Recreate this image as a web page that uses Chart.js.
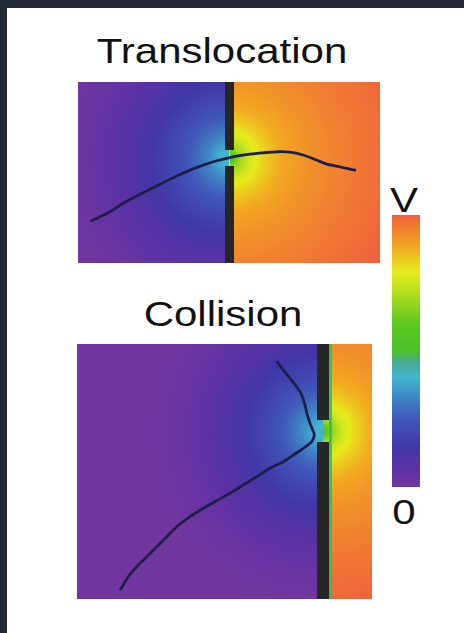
<!DOCTYPE html>
<html>
<head>
<meta charset="utf-8">
<script src="https://cdn.jsdelivr.net/npm/chart.js@4.4.1/dist/chart.umd.min.js"></script>
<style>
  html, body { margin: 0; padding: 0; }
  body { width: 464px; height: 633px; background: #232a36; position: relative; overflow: hidden;
         font-family: "Liberation Sans", Arial, sans-serif; }
  .page { position: absolute; left: 7px; top: 8px; right: 0; bottom: 0; background: #fff; }
  .lbl { position: absolute; width: 300px; font-size: 35px; line-height: 35px; color: #111;
         text-align: center; white-space: nowrap; transform: scaleX(1.2); transform-origin: 50% 0; }
  canvas { position: absolute; }
</style>
</head>
<body>
<div class="page"></div>

<div class="lbl" style="left:72px; top:33px;">Translocation</div>
<div class="lbl" style="left:73px; top:296px;">Collision</div>
<div class="lbl" style="left:254px; top:182px;">V</div>
<div class="lbl" style="left:254px; top:494px;">0</div>

<canvas id="topChart" width="302" height="181" style="left:78px; top:82px;"></canvas>
<canvas id="bottomChart" width="295" height="255" style="left:77px; top:344px;"></canvas>
<canvas id="cbarChart" width="28" height="272" style="left:392px; top:215px;"></canvas>

<script>
// ========== DATA ==========

// colour scale, 0 .. V
const cmapStops  = [0.00, 0.06, 0.14, 0.24, 0.33, 0.40, 0.46, 0.50, 0.60, 0.70, 0.79, 0.89, 1.00];
const cmapColors = ['#7236a0', '#5e32a4', '#4236a6', '#4054b8', '#3e86c4', '#42b6d0', '#48a890',
                    '#4ec02a', '#5cc820', '#a8dc1e', '#e6ec1c', '#f2a422', '#f0603e'];

// potential vs distance from the pore mouth (nm), each side of the membrane
const fieldDist  = [0, 1, 2, 3.5, 5, 7, 10, 14, 18, 32];
const fieldLeft  = [0.42, 0.39, 0.34, 0.27, 0.22, 0.16, 0.09, 0.03, 0.0, 0.0];
const fieldRight = [0.54, 0.68, 0.76, 0.83, 0.88, 0.91, 0.94, 0.97, 1.0, 1.0];

// translocation panel
const topRange = { x: [0, 30], y: [0, 18] };
const topWallX = 15.05;
const topGap   = [9.64, 11.23];
const trajTopX = [1.36, 3.18, 4.50, 5.83, 7.15, 8.47, 9.80, 11.12, 12.44, 13.77, 14.77,
                  15.76, 17.08, 18.40, 19.73, 21.05, 22.37, 23.70, 24.70, 25.69, 26.68, 27.51];
const trajTopY = [4.20, 5.10, 5.94, 6.66, 7.33, 7.99, 8.65, 9.24, 9.74, 10.17, 10.41,
                  10.64, 10.83, 10.96, 11.06, 11.03, 10.74, 10.24, 9.84, 9.64, 9.41, 9.24];

// collision panel
const botRange = { x: [0, 29.5], y: [0, 25.5] };
const botWallX = 24.6;
const botEdgeX = 25.35;
const botGap   = [15.7, 17.9];
const trajBotX = [20.03, 20.63, 21.30, 21.97, 22.47, 22.80, 23.03, 23.30, 23.57, 23.73, 23.47,
                  22.63, 21.63, 20.63, 19.30, 17.97, 16.63, 15.30, 13.97, 12.63, 11.30, 9.97,
                  8.97, 7.97, 6.97, 5.97, 5.13, 4.37];
const trajBotY = [23.68, 22.90, 22.07, 21.23, 20.40, 19.40, 18.40, 17.57, 16.90, 16.40, 15.73,
                  15.07, 14.40, 13.73, 13.07, 12.23, 11.40, 10.57, 9.83, 9.07, 8.23, 7.23,
                  6.23, 5.23, 4.23, 3.23, 2.23, 0.97];

// ========== HELPERS ==========

function hexToRgb(h) {
    return [parseInt(h.slice(1, 3), 16), parseInt(h.slice(3, 5), 16), parseInt(h.slice(5, 7), 16)];
}
const cmapRgb = cmapColors.map(hexToRgb);

function lerpTable(xs, ys, v) {
    if (v <= xs[0]) return ys[0];
    for (let i = 1; i < xs.length; i++) {
        if (v <= xs[i]) {
            const t = (v - xs[i - 1]) / (xs[i] - xs[i - 1]);
            return ys[i - 1] + t * (ys[i] - ys[i - 1]);
        }
    }
    return ys[ys.length - 1];
}

function cmap(v) {
    const rgb = [0, 1, 2].map(k => Math.round(lerpTable(cmapStops, cmapRgb.map(c => c[k]), v)));
    return `rgb(${rgb[0]},${rgb[1]},${rgb[2]})`;
}

function points(xs, ys) {
    return xs.map((x, i) => ({ x: x, y: ys[i] }));
}

// paints the potential map behind the datasets, centred on the pore
const fieldPlugin = {
    id: 'field',
    beforeDatasetsDraw(chart, args, opts) {
        const { ctx, chartArea: a, scales: { x, y } } = chart;
        const cx = x.getPixelForValue(opts.poreX);
        const cy = y.getPixelForValue(opts.poreY);
        const dMax = fieldDist[fieldDist.length - 1];
        const r = x.getPixelForValue(dMax) - x.getPixelForValue(0);
        [[a.left, cx, fieldLeft], [cx, a.right, fieldRight]].forEach(([x0, x1, vals]) => {
            const g = ctx.createRadialGradient(cx, cy, 0, cx, cy, r);
            const n = 200;
            for (let i = 0; i <= n; i++) {
                g.addColorStop(i / n, cmap(lerpTable(fieldDist, vals, dMax * i / n)));
            }
            ctx.save();
            ctx.beginPath();
            ctx.rect(x0, a.top, x1 - x0, a.bottom - a.top);
            ctx.clip();
            ctx.fillStyle = g;
            ctx.fillRect(x0, a.top, x1 - x0, a.bottom - a.top);
            ctx.restore();
        });
    }
};

function lineSet(data, color, width) {
    return {
        data: data,
        showLine: true,
        borderColor: color,
        borderWidth: width,
        borderCapStyle: 'butt',
        pointRadius: 0,
        tension: 0
    };
}

function panelChart(id, range, wallX, gap, wallW, traj, extra) {
    const wall = '#262626';
    const datasets = [
        Object.assign(lineSet(traj, '#1e1e4c', 2.8), { tension: 0.35, borderCapStyle: 'round' }),
        lineSet([{ x: wallX, y: gap[1] }, { x: wallX, y: range.y[1] }], wall, wallW),
        lineSet([{ x: wallX, y: range.y[0] }, { x: wallX, y: gap[0] }], wall, wallW)
    ].concat(extra || []);

    return new Chart(document.getElementById(id), {
        type: 'scatter',
        data: { datasets: datasets },
        options: {
            responsive: false,
            animation: false,
            layout: { padding: 0 },
            scales: {
                x: { display: false, min: range.x[0], max: range.x[1] },
                y: { display: false, min: range.y[0], max: range.y[1] }
            },
            plugins: {
                legend: { display: false },
                tooltip: { enabled: false },
                field: { poreX: wallX, poreY: (gap[0] + gap[1]) / 2 }
            }
        },
        plugins: [fieldPlugin]
    });
}

// ========== CHARTS ==========

panelChart('topChart', topRange, topWallX, topGap, 9, points(trajTopX, trajTopY));

panelChart('bottomChart', botRange, botWallX, botGap, 12, points(trajBotX, trajBotY), [
    lineSet([{ x: botEdgeX, y: botRange.y[0] }, { x: botEdgeX, y: botRange.y[1] }], '#3cb84a', 2.5)
]);

new Chart(document.getElementById('cbarChart'), {
    type: 'bar',
    data: {
        labels: [''],
        datasets: [{
            data: [[0, 1]],
            borderWidth: 0,
            barPercentage: 1,
            categoryPercentage: 1,
            backgroundColor: (c) => {
                const area = c.chart.chartArea;
                if (!area) return cmapColors[0];
                const ys = c.chart.scales.y;
                const g = c.chart.ctx.createLinearGradient(0, ys.getPixelForValue(0), 0, ys.getPixelForValue(1));
                for (let i = 0; i <= 100; i++) g.addColorStop(i / 100, cmap(i / 100));
                return g;
            }
        }]
    },
    options: {
        responsive: false,
        animation: false,
        layout: { padding: 0 },
        scales: {
            x: { display: false },
            y: { display: false, min: 0, max: 1 }
        },
        plugins: { legend: { display: false }, tooltip: { enabled: false } }
    }
});
</script>
</body>
</html>
